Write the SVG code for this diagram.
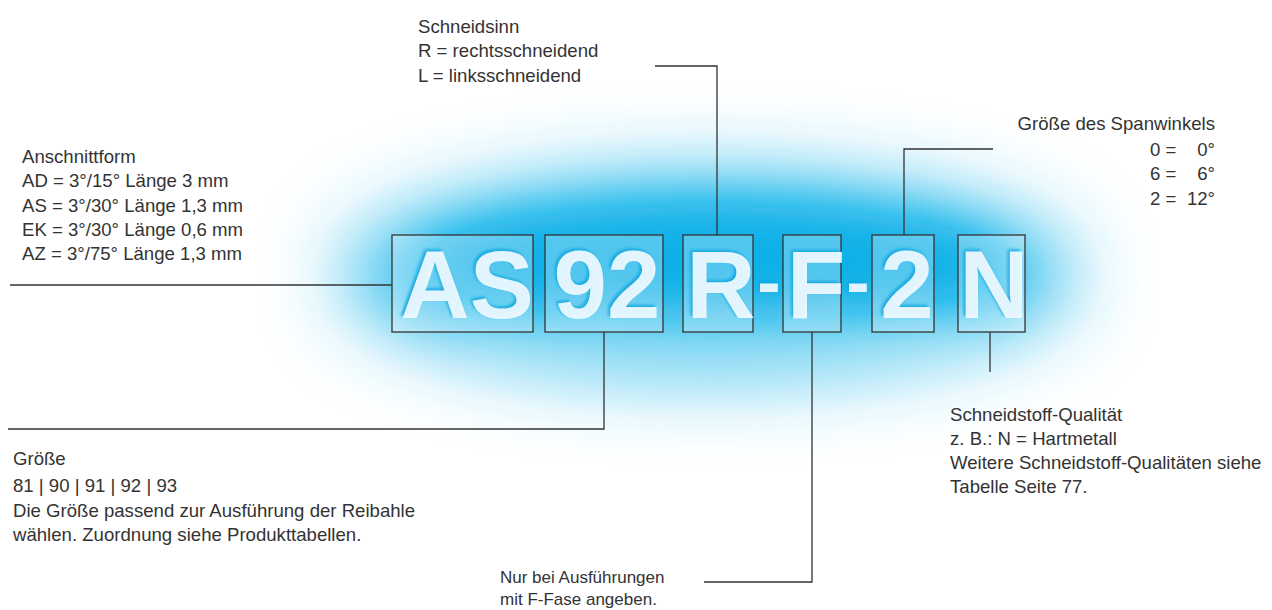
<svg xmlns="http://www.w3.org/2000/svg" width="1272" height="610" viewBox="0 0 1272 610">
<defs>
<filter id="glow" x="-50%" y="-100%" width="200%" height="300%"><feGaussianBlur stdDeviation="40"/></filter>
<filter id="glow2" x="-50%" y="-100%" width="200%" height="300%"><feGaussianBlur stdDeviation="25"/></filter>
<filter id="soft" x="-10%" y="-10%" width="120%" height="120%"><feGaussianBlur stdDeviation="1.6"/></filter>
<filter id="soft2" x="-10%" y="-10%" width="120%" height="120%"><feGaussianBlur stdDeviation="0.7"/></filter>
<style>
.t{font-family:"Liberation Sans",Arial,sans-serif;font-size:18.6px;fill:#333}
.n{font-family:"Liberation Sans",Arial,sans-serif;font-size:17px;fill:#333}
.ln{stroke:#333;stroke-width:1.3;fill:none}
.box{stroke:#333;stroke-width:1.3;fill:#ffffff;fill-opacity:0.28}
.big{font-family:"Liberation Sans",Arial,sans-serif;font-weight:bold;font-size:96px;text-anchor:middle}
.dash{font-size:70px}
.sh{fill:#0ea6de;opacity:0.9}
.fg{fill:#f4fbff;opacity:0.92}
</style>
</defs>
<rect width="1272" height="610" fill="#ffffff"/>
<g id="glow-bg">
<ellipse cx="708" cy="275" rx="365" ry="98" fill="#2cbcec" filter="url(#glow)"/>
<ellipse cx="712" cy="262" rx="290" ry="55" fill="#10b0e8" filter="url(#glow2)"/>
<ellipse cx="720" cy="345" rx="280" ry="30" fill="#ffffff" opacity="0.35" filter="url(#glow2)"/>
</g>
<g id="boxes">
<rect class="box" x="392" y="235" width="141" height="97"/>
<rect class="box" x="545" y="235" width="118" height="97"/>
<rect class="box" x="683" y="235" width="70" height="97"/>
<rect class="box" x="783" y="235" width="58" height="97"/>
<rect class="box" x="872" y="235" width="62" height="97"/>
<rect class="box" x="958" y="235" width="67" height="97"/>
</g>
<g id="code">
<g filter="url(#soft)">
<text class="big sh" x="465" y="316">AS</text>
<text class="big sh" x="605" y="316">92</text>
<text class="big sh" x="719" y="316">R</text>
<text class="big dash sh" x="767" y="304">-</text>
<text class="big sh" x="814" y="316">F</text>
<text class="big dash sh" x="856" y="304">-</text>
<text class="big sh" x="905" y="316">2</text>
<text class="big sh" x="992" y="316" opacity="0.45">N</text>
</g>
<g filter="url(#soft2)">
<text class="big fg" x="467" y="318">AS</text>
<text class="big fg" x="607" y="318">92</text>
<text class="big fg" x="721" y="318" opacity="0.75">R</text>
<text class="big dash fg" x="769" y="306">-</text>
<text class="big fg" x="816" y="318" opacity="0.75">F</text>
<text class="big dash fg" x="858" y="306">-</text>
<text class="big fg" x="907" y="318">2</text>
<text class="big fg" x="994" y="318" opacity="0.65">N</text>
</g>
</g>
<g id="connectors">
<polyline class="ln" points="10,285 392,285"/>
<polyline class="ln" points="655,66 717,66 717,235"/>
<polyline class="ln" points="993,149 904,149 904,235"/>
<polyline class="ln" points="8,429 604,429 604,332"/>
<polyline class="ln" points="704,582 812,582 812,332"/>
<polyline class="ln" points="990,332 990,372"/>
</g>
<g id="anschnittform">
<text class="t" x="22" y="163">Anschnittform</text>
<text class="t" x="22" y="187">AD = 3°/15° Länge 3 mm</text>
<text class="t" x="22" y="212">AS = 3°/30° Länge 1,3 mm</text>
<text class="t" x="22" y="236">EK = 3°/30° Länge 0,6 mm</text>
<text class="t" x="22" y="260">AZ = 3°/75° Länge 1,3 mm</text>
</g>
<g id="schneidsinn">
<text class="t" x="418" y="33">Schneidsinn</text>
<text class="t" x="418" y="57">R = rechtsschneidend</text>
<text class="t" x="418" y="82">L = linksschneidend</text>
</g>
<g id="spanwinkel">
<text class="t" x="1215" y="130" text-anchor="end">Größe des Spanwinkels</text>
<text class="t" x="1150" y="156">0 =</text><text class="t" x="1215" y="156" text-anchor="end">0°</text>
<text class="t" x="1150" y="180">6 =</text><text class="t" x="1215" y="180" text-anchor="end">6°</text>
<text class="t" x="1150" y="205">2 =</text><text class="t" x="1215" y="205" text-anchor="end">12°</text>
</g>
<g id="groesse">
<text class="t" x="13" y="465">Größe</text>
<text class="t" x="13" y="492">81 | 90 | 91 | 92 | 93</text>
<text class="t" x="13" y="517">Die Größe passend zur Ausführung der Reibahle</text>
<text class="t" x="13" y="541">wählen. Zuordnung siehe Produkttabellen.</text>
</g>
<g id="fase">
<text class="n" x="500" y="583">Nur bei Ausführungen</text>
<text class="n" x="500" y="605">mit F-Fase angeben.</text>
</g>
<g id="schneidstoff">
<text class="t" x="950" y="421">Schneidstoff-Qualität</text>
<text class="t" x="950" y="445">z. B.: N = Hartmetall</text>
<text class="t" x="950" y="469">Weitere Schneidstoff-Qualitäten siehe</text>
<text class="t" x="950" y="493">Tabelle Seite 77.</text>
</g>
</svg>
